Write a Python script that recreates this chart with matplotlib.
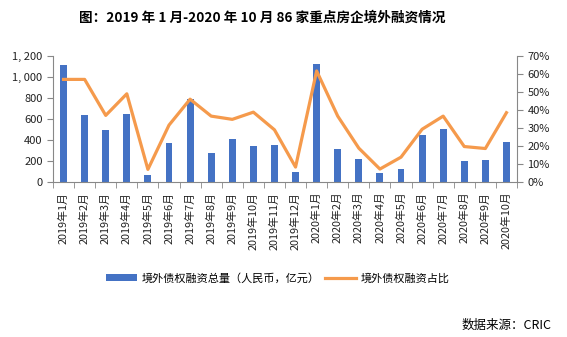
import matplotlib
matplotlib.use("Agg")
import matplotlib.pyplot as plt
from matplotlib.ticker import FixedLocator, FuncFormatter

plt.rcParams['font.family'] = ['Noto Sans CJK SC', 'DejaVu Sans']

months = ["2019年1月", "2019年2月", "2019年3月", "2019年4月", "2019年5月", "2019年6月",
          "2019年7月", "2019年8月", "2019年9月", "2019年10月", "2019年11月", "2019年12月",
          "2020年1月", "2020年2月", "2020年3月", "2020年4月", "2020年5月", "2020年6月",
          "2020年7月", "2020年8月", "2020年9月", "2020年10月"]
amount = [1117, 640, 492, 650, 63, 368, 790, 279, 412, 346, 355, 97,
          1127, 311, 222, 89, 127, 451, 508, 203, 212, 384]
share = [57, 57, 37, 49, 7, 31.6, 46, 36.6, 34.8, 38.8, 29, 8.3,
         61.7, 36.6, 18.8, 7.2, 13.8, 29.3, 36.6, 19.7, 18.6, 38.5]
left_ticks = [0, 200, 400, 600, 800, 1000, 1200]
right_ticks = [0, 10, 20, 30, 40, 50, 60, 70]

bar_color = '#4472C4'
line_color = '#F59A4C'
axis_color = '#888888'

fig = plt.figure(figsize=(5.67, 3.37), dpi=100)
ax = fig.add_axes([53/567, 1-182/337, (517-53)/567, (182-56)/337])
x = list(range(len(months)))
bars = ax.bar(x, amount, width=0.33, color=bar_color, zorder=2,
              label='境外债权融资总量（人民币，亿元）')
ax.set_xlim(-0.5, len(months)-0.5)
ax.set_ylim(0, 1200)
ax.yaxis.set_major_locator(FixedLocator(left_ticks))
ax.yaxis.set_major_formatter(FuncFormatter(lambda v, p: f"{int(v):,}".replace(",", ", ")))
ax.set_xticks(x)
ax.set_xticklabels(months, rotation=90, fontsize=7.8, color='#222222')
ax.xaxis.set_minor_locator(FixedLocator([i - 0.5 for i in range(len(months)+1)]))
ax.tick_params(axis='x', which='major', length=0, pad=7)
ax.tick_params(axis='x', which='minor', length=4, color=axis_color)
ax.tick_params(axis='y', length=4, color=axis_color, labelsize=8, labelcolor='#222222')
for s in ['top', 'right']:
    ax.spines[s].set_visible(False)
for s in ['left', 'bottom']:
    ax.spines[s].set_color(axis_color)

ax2 = ax.twinx()
line, = ax2.plot(x, share, color=line_color, lw=2.3, zorder=3, label='境外债权融资占比')
ax2.set_ylim(0, 70)
ax2.yaxis.set_major_locator(FixedLocator(right_ticks))
ax2.yaxis.set_major_formatter(FuncFormatter(lambda v, p: f"{int(v)}%"))
ax2.tick_params(axis='y', length=4, color=axis_color, labelsize=8, labelcolor='#222222')
for s in ['top', 'left', 'bottom']:
    ax2.spines[s].set_visible(False)
ax2.spines['right'].set_color(axis_color)

fig.text(262/567, 1-18/337, '图：2019 年 1 月-2020 年 10 月 86 家重点房企境外融资情况',
         ha='center', va='center', fontsize=9.8, fontweight='bold')

fig.legend([bars, line], ['境外债权融资总量（人民币，亿元）', '境外债权融资占比'],
           loc='center', bbox_to_anchor=(0.49, 1-278/337), ncol=2, frameon=False,
           fontsize=8, handlelength=2.8, handletextpad=0.4, columnspacing=0.5,
           handleheight=0.5)

fig.text(552/567, 1-325/337, '数据来源：CRIC', ha='right', va='center', fontsize=9)

fig.savefig('out.png', dpi=100)
